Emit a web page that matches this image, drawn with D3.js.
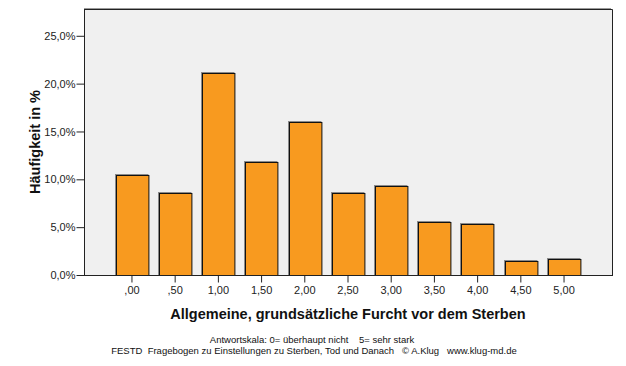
<!DOCTYPE html>
<html>
<head>
<meta charset="utf-8">
<script src="https://cdn.jsdelivr.net/npm/d3@7"></script>
<style>
  body { margin: 0; background: #fff; }
  svg { display: block; font-family: "Liberation Sans", Arial, sans-serif; }
</style>
</head>
<body>
<svg id="chart" width="626" height="366"></svg>
<script>
// Antwortkategorien und Prozentwerte
var categories = [",00", ",50", "1,00", "1,50", "2,00", "2,50", "3,00", "3,50", "4,00", "4,50", "5,00"];
var percents = [10.5, 8.6, 21.1, 11.8, 16.0, 8.6, 9.3, 5.5, 5.3, 1.5, 1.7];
var yTicks = [0, 5, 10, 15, 20, 25];

var svg = d3.select("#chart");
// note: "top" is taken by window.top, so prefixed names
var plotLeft = 84, plotRight = 612, plotTop = 9, plotBottom = 275;

var x = d3.scaleBand()
  .domain(categories)
  .range([plotLeft, plotRight])
  .paddingInner(0.25)
  .paddingOuter(0.735);

var y = d3.scaleLinear()
  .domain([0, 27.8])
  .range([plotBottom, plotTop]);

// Plot background
svg.append("rect")
  .attr("x", plotLeft)
  .attr("y", plotTop)
  .attr("width", plotRight - plotLeft)
  .attr("height", plotBottom - plotTop)
  .attr("fill", "#f0f0f0");

// frame (top / right)
svg.append("path")
  .attr("d", "M" + plotLeft + "," + (plotTop - 0.5) + "H" + (plotRight - 1))
  .attr("stroke", "#9a9a9a")
  .attr("fill", "none");
svg.append("path")
  .attr("d", "M" + plotLeft + "," + (plotTop + 0.5) + "H" + (plotRight + 0.5) + "V" + plotBottom)
  .attr("stroke", "#222")
  .attr("fill", "none");

var bars = svg.append("g");

// shadow
bars.selectAll("rect.shadow")
  .data(percents)
  .enter().append("rect")
  .attr("class", "shadow")
  .attr("x", function (d, i) { return Math.round(x(categories[i])) - 0.5; })
  .attr("y", function (d) { return Math.round(y(d)) - 0.5; })
  .attr("width", x.bandwidth())
  .attr("height", function (d) { return plotBottom - Math.round(y(d)) + 0.5; })
  .attr("fill", "none")
  .attr("stroke", "#8a8a8a");

bars.selectAll("rect.bar")
  .data(percents)
  .enter().append("rect")
  .attr("class", "bar")
  .attr("x", function (d, i) { return Math.round(x(categories[i])) + 0.5; })
  .attr("y", function (d) { return Math.round(y(d)) + 0.5; })
  .attr("width", x.bandwidth())
  .attr("height", function (d) { return plotBottom - Math.round(y(d)); })
  .attr("fill", "#f89a1f")
  .attr("stroke", "#111");

// y axis
var yAxis = d3.axisLeft(y)
  .tickValues(yTicks)
  .tickSize(8)
  .tickPadding(1)
  .tickFormat(function (d) { return d.toFixed(1).replace(".", ",") + "%"; });

var gy = svg.append("g")
  .attr("transform", "translate(" + (plotLeft + 0.5) + ",0)")
  .call(yAxis);
gy.select(".domain").attr("d", "M0," + plotTop + "V" + (plotBottom + 0.5)).attr("stroke", "#222");
gy.selectAll(".tick line").attr("stroke", "#222");
gy.selectAll("text").attr("font-size", 11).attr("fill", "#222").attr("font-family", "Liberation Sans, Arial, sans-serif");

// x axis
var xAxis = d3.axisBottom(x)
  .tickSize(7)
  .tickPadding(4);

var gx = svg.append("g")
  .attr("transform", "translate(0," + (plotBottom + 0.5) + ")")
  .call(xAxis);
gx.select(".domain").attr("d", "M" + plotLeft + ",0H" + (plotRight + 1)).attr("stroke", "#222");
gx.selectAll(".tick line").attr("stroke", "#222");
gx.selectAll("text").attr("font-size", 11).attr("fill", "#222").attr("font-family", "Liberation Sans, Arial, sans-serif");

// titles
svg.append("text")
  .attr("x", (plotLeft + plotRight) / 2)
  .attr("y", 319)
  .attr("text-anchor", "middle")
  .attr("font-size", 14.5)
  .attr("font-weight", "bold")
  .attr("fill", "#111")
  .text("Allgemeine, grundsätzliche Furcht vor dem Sterben");

svg.append("text")
  .attr("transform", "translate(40," + ((plotTop + plotBottom) / 2) + ") rotate(-90)")
  .attr("text-anchor", "middle")
  .attr("font-size", 14.5)
  .attr("font-weight", "bold")
  .attr("fill", "#111")
  .text("Häufigkeit in %");

svg.append("text")
  .attr("x", 312)
  .attr("y", 343)
  .attr("text-anchor", "middle")
  .attr("font-size", 9.5)
  .attr("fill", "#111")
  .style("white-space", "pre")
  .text("Antwortskala: 0= überhaupt nicht    5= sehr stark");

svg.append("text")
  .attr("x", 314)
  .attr("y", 354)
  .attr("text-anchor", "middle")
  .attr("font-size", 9.5)
  .attr("fill", "#111")
  .style("white-space", "pre")
  .text("FESTD  Fragebogen zu Einstellungen zu Sterben, Tod und Danach   © A.Klug   www.klug-md.de");
</script>
</body>
</html>
